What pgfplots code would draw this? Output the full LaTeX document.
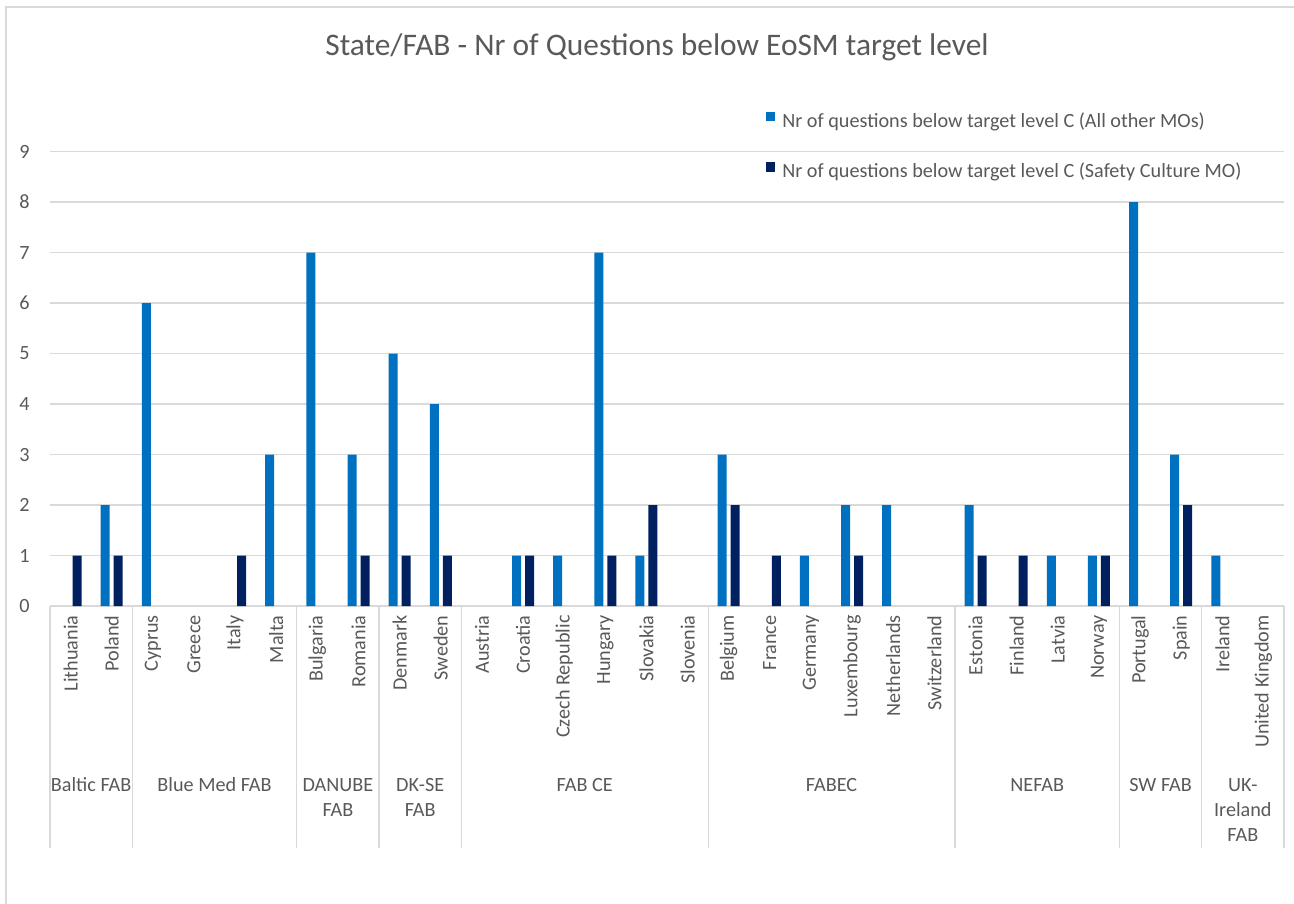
\documentclass[border=0pt]{standalone}
\usepackage{fontspec}
\setmainfont{Carlito}
\usepackage{pgfplots}
\usepackage{pgfplotstable}
\pgfplotsset{compat=1.18}

\definecolor{lblue}{HTML}{0070C0}
\definecolor{dblue}{HTML}{002060}
\definecolor{gridgray}{HTML}{D9D9D9}
\definecolor{txtgray}{HTML}{595959}

% idx: position of the state on the x axis
\pgfplotstableread{
idx other safety
0 0 1
1 2 1
2 6 0
3 0 0
4 0 1
5 3 0
6 7 0
7 3 1
8 5 1
9 4 1
10 0 0
11 1 1
12 1 0
13 7 1
14 1 2
15 0 0
16 3 2
17 0 1
18 1 0
19 2 1
20 2 0
21 0 0
22 2 1
23 0 1
24 1 0
25 1 1
26 8 0
27 3 2
28 1 0
29 0 0
}\datatable

\begin{document}
\begin{tikzpicture}[font=\fontsize{10.1bp}{12bp}\selectfont]
    \useasboundingbox (0,0) rectangle (647bp,-452bp);
    % chart frame (top and left edges only, rest is cropped)
    \draw[gridgray, line width=1bp] (3bp,-452bp) -- (3bp,-3.5bp) -- (647bp,-3.5bp);

    \node[text=txtgray, anchor=base, font=\fontsize{15.7bp}{18bp}\selectfont]
        at (328.5bp,-27.5bp) {State/FAB - Nr of Questions below EoSM target level};

    \begin{axis}[
        at={(25bp,-303bp)}, anchor=south west,
        scale only axis,
        width=617bp, height=227.25bp,
        ybar=2bp,
        bar width=4.5bp,
        xmin=-0.5, xmax=29.5,
        ymin=0, ymax=9,
        enlargelimits=false,
        clip=false,
        axis x line*=bottom,
        axis y line*=left,
        x axis line style={draw=gridgray, line width=0.75bp, -},
        y axis line style={draw=none},
        major tick length=0pt,
        ytick={0,...,9},
        ymajorgrids=true,
        grid style={draw=gridgray, line width=0.75bp},
        xtick={0,...,29},
        xticklabels={Lithuania,Poland,Cyprus,Greece,Italy,Malta,Bulgaria,Romania,Denmark,Sweden,
            Austria,Croatia,Czech Republic,Hungary,Slovakia,Slovenia,
            Belgium,France,Germany,Luxembourg,Netherlands,Switzerland,
            Estonia,Finland,Latvia,Norway,Portugal,Spain,Ireland,United Kingdom},
        xticklabel style={rotate=90, anchor=east, inner sep=0pt, text=txtgray},
        xticklabel shift=4.5bp,
        yticklabel style={anchor=east, inner sep=0pt, text=txtgray},
        yticklabel shift=10bp,
        /pgf/number format/assume math mode=true,
        % empty (zero) bars are not drawn at all
        y filter/.expression={y==0 ? nan : y},
        unbounded coords=jump,
        legend image code/.code={\fill[#1] (0bp,0.2bp) rectangle (4.6bp,4.8bp);},
        legend cell align=left,
        legend style={
            at={(axis description cs:0.580,1.088)}, anchor=north west,
            draw=none, fill=none, inner sep=0pt,
            row sep=16bp, column sep=3.5bp,
            nodes={inner sep=0pt, text=txtgray},
        },
    ]
        \addplot[fill=lblue, draw=none] table[x=idx, y=other] {\datatable};
        \addplot[fill=dblue, draw=none] table[x=idx, y=safety] {\datatable};
        \legend{Nr of questions below target level C (All other MOs),
                Nr of questions below target level C (Safety Culture MO)}

        % separators of the FAB groups
        \pgfplotsinvokeforeach{-0.5,1.5,5.5,7.5,9.5,15.5,21.5,25.5,27.5,29.5}{
            \draw[gridgray, line width=0.6bp] (axis cs:#1,0) -- ++(0pt,-121bp);
        }
        % FAB group names
        \begin{scope}[every node/.style={anchor=base, text=txtgray, inner sep=0pt}]
            \node[yshift=-92.7bp] at (axis cs:0.5,0) {Baltic FAB};
            \node[yshift=-92.7bp] at (axis cs:3.5,0) {Blue Med FAB};
            \node[yshift=-92.7bp] at (axis cs:6.5,0) {DANUBE};
            \node[yshift=-105.2bp] at (axis cs:6.5,0) {FAB};
            \node[yshift=-92.7bp] at (axis cs:8.5,0) {DK-SE};
            \node[yshift=-105.2bp] at (axis cs:8.5,0) {FAB};
            \node[yshift=-92.7bp] at (axis cs:12.5,0) {FAB CE};
            \node[yshift=-92.7bp] at (axis cs:18.5,0) {FABEC};
            \node[yshift=-92.7bp] at (axis cs:23.5,0) {NEFAB};
            \node[yshift=-92.7bp] at (axis cs:26.5,0) {SW FAB};
            \node[yshift=-92.7bp] at (axis cs:28.5,0) {UK-};
            \node[yshift=-105.2bp] at (axis cs:28.5,0) {Ireland};
            \node[yshift=-117.7bp] at (axis cs:28.5,0) {FAB};
        \end{scope}
    \end{axis}
\end{tikzpicture}
\end{document}
